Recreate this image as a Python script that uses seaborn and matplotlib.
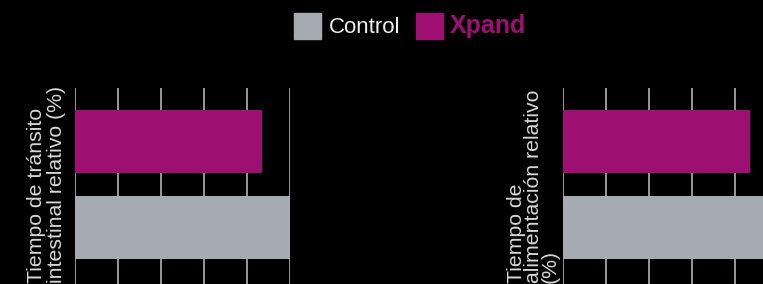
import pandas as pd
import matplotlib.pyplot as plt
import seaborn as sns

# ----------------------------------------
# Data
# ----------------------------------------
groups = ["Xpand", "Control"]
transit_values = [87, 100]   # Tiempo de tránsito intestinal relativo (%)
feeding_values = [87, 100]   # Tiempo de alimentación relativo (%)
x_ticks = [0, 20, 40, 60, 80, 100]

colors = {"Control": "#a5abb1", "Xpand": "#9e0f72"}

df_transit = pd.DataFrame({"grupo": groups, "valor": transit_values})
df_feeding = pd.DataFrame({"grupo": groups, "valor": feeding_values})

sns.set_style("dark")
plt.rcParams["font.family"] = ["Liberation Sans", "DejaVu Sans"]

fig = plt.figure(figsize=(7.63, 2.84), dpi=100, facecolor="black")

ax1 = fig.add_axes([75 / 763, 0, 215 / 763, 196 / 284])
ax2 = fig.add_axes([563 / 763, 0, 215 / 763, 196 / 284])

for ax, df in [(ax1, df_transit), (ax2, df_feeding)]:
    sns.barplot(data=df, y="grupo", x="valor", hue="grupo", order=groups,
                palette=colors, saturation=1, width=0.73, dodge=False,
                legend=False, edgecolor="none", ax=ax, zorder=3)
    ax.set_facecolor("black")
    ax.set_xlim(0, 100)
    ax.set_ylim(1.657, -0.622)
    ax.set_xticks(x_ticks)
    ax.set_yticks([])
    ax.tick_params(length=0, labelbottom=False, labelleft=False)
    ax.grid(False)
    for x in x_ticks:
        ax.axvline(x, color="#b4b4b4", lw=1.2, zorder=1)
    for s in ax.spines.values():
        s.set_visible(False)
    ax.set_xlabel("")
    ax.set_ylabel("")

# Axis titles (rotated, anchored near the bottom edge)
fig.text(27 / 763, 0.004, "Tiempo de tránsito\nintestinal relativo (%)",
         rotation=90, ha="left", va="bottom", multialignment="left",
         color="#d8d8d8", fontsize=15.3, linespacing=1.05)
fig.text(507 / 763, 0.004, "Tiempo de\nalimentación relativo\n(%)",
         rotation=90, ha="left", va="bottom", multialignment="left",
         color="#d8d8d8", fontsize=15.3, linespacing=0.84)

# Legend at the top
handles = [plt.Rectangle((0, 0), 1, 1, color=colors["Control"]),
           plt.Rectangle((0, 0), 1, 1, color=colors["Xpand"])]
leg = fig.legend(handles, ["Control", "Xpand"], loc="upper center",
                 bbox_to_anchor=(0.538, 1.025), ncol=2, frameon=False,
                 fontsize=16, handlelength=1.2, handleheight=1.45,
                 handletextpad=0.35, columnspacing=0.7,
                 labelcolor=["#eeeeee", colors["Xpand"]])
leg.get_texts()[1].set_fontweight("bold")
leg.get_texts()[1].set_fontsize(18)

fig.savefig("out.png", dpi=100, facecolor="black")
